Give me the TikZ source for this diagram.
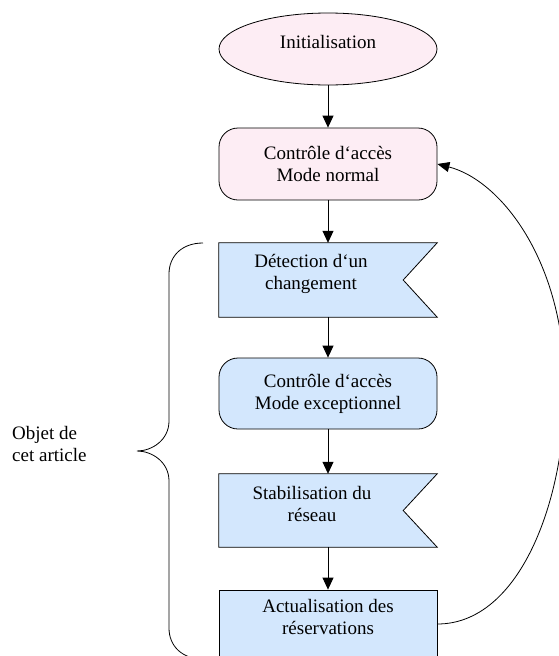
\documentclass[tikz,border=0pt]{standalone}
\usepackage{fontspec}
\setmainfont{Liberation Serif}
\usetikzlibrary{shapes.geometric,arrows.meta}
\definecolor{pinkfill}{RGB}{253,237,244}
\definecolor{bluefill}{RGB}{211,231,253}
\tikzset{
  txt/.style={font=\fontsize{19}{22}\selectfont, align=center, inner sep=0pt},
  startnode/.style={ellipse, draw, line width=0.8pt, fill=pinkfill, minimum width=218pt, minimum height=72pt, inner sep=0pt, font=\fontsize{19}{22}\selectfont},
  roundbox/.style={draw, line width=0.8pt, rounded corners=19pt, minimum width=218pt, inner sep=0pt, align=center, font=\fontsize{19}{22}\selectfont},
  plainbox/.style={draw, line width=0.8pt, minimum width=218pt, inner sep=0pt, align=center, font=\fontsize{19}{22}\selectfont},
  area/.style={minimum width=218pt, minimum height=74pt, inner sep=0pt, draw=none},
  bannerline/.style={draw, line width=0.8pt, fill=bluefill, line join=miter},
  flow/.style={line width=0.8pt, -{Triangle[width=11pt,length=12pt]}},
  loopback/.style={line width=0.8pt, -{Triangle[width=10pt,length=12pt]}},
  bracket/.style={line width=0.8pt}
}
\begin{document}
\begin{tikzpicture}[x=1pt,y=-1pt]
\useasboundingbox (0,0) rectangle (559,656);

\node[startnode] (init) at (328,49) {\raisebox{7pt}[\height][\depth]{Initialisation}};
\node[roundbox, fill=pinkfill, minimum height=72pt] (normal) at (328,164) {Contrôle d‘accès\\Mode normal};

\node[area] (det) at (328,280) {};
\path[bannerline] (det.north west) -- (det.north east) -- ([xshift=-34pt]det.east) -- (det.south east) -- (det.south west) -- cycle;
\node[txt] (dettext) at (311,274) {Détection d‘un\\changement};

\node[roundbox, fill=bluefill, minimum height=71pt] (exc) at (328,393.5) {Contrôle d‘accès\\Mode exceptionnel};

\node[area, minimum height=73pt] (stab) at (328,510.5) {};
\path[bannerline] (stab.north west) -- (stab.north east) -- ([xshift=-34pt]stab.east) -- (stab.south east) -- (stab.south west) -- cycle;
\node[txt] (stabtext) at (312,504) {Stabilisation du\\réseau};

\node[plainbox, fill=bluefill, minimum height=68pt] (act) at (328,624) {\raisebox{5pt}[\height][\depth]{\begin{tabular}{@{}c@{}}Actualisation des\\réservations\end{tabular}}};

\draw[flow] (init) -- (normal);
\draw[flow] (normal) -- (det);
\draw[flow] (det) -- (exc);
\draw[flow] (exc) -- (stab);
\draw[flow] (stab) -- (act);

\coordinate (bend) at (565,390);
\draw[loopback] (act.east) .. controls (520,624) and (565,500) .. (bend) .. controls (565,260) and (500,180) .. (normal.east);

\coordinate (brtop) at (203,243);
\coordinate (brtip) at (137,451);
\coordinate (brbot) at (203,659);
\draw[bracket] (brtop) .. controls (182,243) and (169,256) .. (169,274) -- (169,421)
  .. controls (169,440) and (152,451) .. (brtip)
  .. controls (152,451) and (169,462) .. (169,481) -- (169,628)
  .. controls (169,646) and (182,659) .. (brbot);

\node[txt, align=left, anchor=west] (objet) at (12,444) {Objet de\\cet article};
\end{tikzpicture}
\end{document}
